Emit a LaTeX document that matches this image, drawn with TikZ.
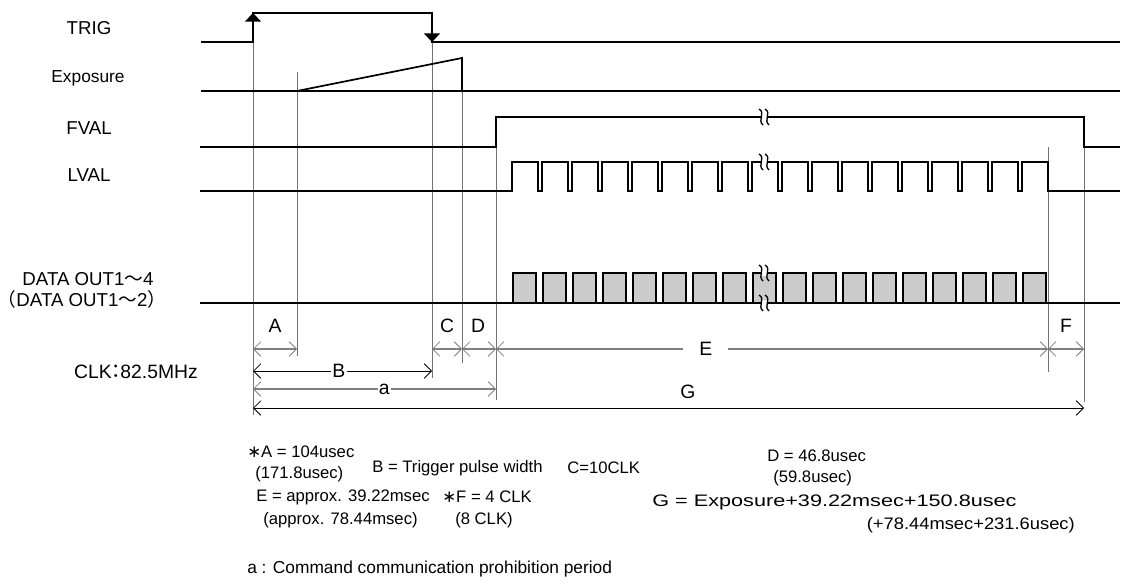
\documentclass[tikz,border=0pt]{standalone}
\usepackage{fontspec}
\setmainfont{Liberation Sans}
\newfontfamily\jpf{Noto Sans CJK JP}
\newfontfamily\djv{DejaVu Sans}
\usetikzlibrary{arrows.meta}
\tikzset{
  sig/.style={line width=1.3pt, line join=miter},
  refl/.style={draw=black!55, line width=0.6pt},
  barb/.tip={Straight Barb[length=5.5pt,width=11pt,line width=0.6pt]},
  dimgray/.style={draw=black!50, line width=1.2pt, {barb}-{barb}},
  dimblack/.style={draw=black, line width=0.7pt, {barb}-{barb}},
  lbl/.style={font=\fontsize{14}{16}\selectfont, inner sep=0pt},
  dlbl/.style={font=\fontsize{14.5}{16}\selectfont, inner sep=1pt},
  gap/.style={fill=white, inner xsep=8pt, inner ysep=1pt},
  note/.style={font=\fontsize{12.5}{15}\selectfont, inner sep=0pt, anchor=west},
  box/.style={draw=black, line width=1pt, fill=black!20},
  brk/.pic={
    \fill[white] (-3.5,-3) rectangle (3.5,3);
    \draw[line width=1pt] (-5,-8) .. controls (2,-4) and (-7,3) .. (-1,8);
    \draw[line width=1pt] (1,-8) .. controls (8,-4) and (-1,3) .. (5,8);
  }
}
\begin{document}
\begin{tikzpicture}[x=0.75pt,y=-0.75pt]
\useasboundingbox (0,0) rectangle (1127,585);

% ---------- labels on the left ----------
\node[lbl] (trig) at (89,28) {TRIG};
\node[lbl, font=\fontsize{13}{15}\selectfont] (expo) at (88,78) {Exposure};
\node[lbl] (fval) at (89,128) {FVAL};
\node[lbl] (lval) at (89,175) {LVAL};
\node[lbl] (d1) at (88,279) {DATA OUT1{\jpf ～}4};
\node[lbl] (d2) at (82,299) {{\jpf （}DATA OUT1{\jpf ～}2{\jpf ）}};
\node[lbl, font=\fontsize{14.5}{16}\selectfont] (clk) at (136,372) {CLK{\jpf\hspace{-0.25em}：\hspace{-0.3em}}82.5MHz};

% ---------- reference lines ----------
\draw[refl] (253,42) -- (253,415);
\draw[refl] (297,72) -- (297,356);
\draw[refl] (432,42) -- (432,378);
\draw[refl] (462,91) -- (462,363);
\draw[refl] (496,147) -- (496,400);
\draw[refl] (1048,147) -- (1048,372);
\draw[refl] (1084,147) -- (1084,402);

% ---------- TRIG ----------
\draw[sig] (201,42) -- (253,42) -- (253,13) -- (432,13) -- (432,42) -- (1120,42);
\draw[sig, -{Triangle[length=6.5pt,width=12pt]}] (253,30) -- (253,13);
\draw[sig, -{Triangle[length=6.5pt,width=12pt]}] (432,25) -- (432,42);

% ---------- Exposure ----------
\draw[sig] (201,91) -- (1120,91);
\draw[sig] (297,91) -- (462,58) -- (462,91);

% ---------- FVAL ----------
\draw[sig] (200,147) -- (496,147) -- (496,117) -- (1084,117) -- (1084,147) -- (1120,147);

% ---------- LVAL ----------
\draw[sig] (200,191)
  \foreach \k in {0,...,17} { -- ({512+30*\k},191) -- ({512+30*\k},162) -- ({538+30*\k},162) -- ({538+30*\k},191) }
  -- (1120,191);

% ---------- DATA ----------
\draw[sig] (200,303) -- (1120,303);
\foreach \k in {0,...,17} {
  \draw[box] ({513+30*\k},303) rectangle ({536+30*\k},273);
}

% ---------- break marks ----------
\pic at (764,117) {brk};
\pic at (764,162) {brk};
\pic at (764,273) {brk};
\pic at (764,303) {brk};

% ---------- dimension coordinates ----------
\coordinate (t0) at (253,349);
\coordinate (t1) at (297,349);
\coordinate (t2) at (432,349);
\coordinate (t3) at (462,349);
\coordinate (t4) at (496,349);
\coordinate (t5) at (1048,349);
\coordinate (t6) at (1084,349);
\coordinate (b0) at (253,371);
\coordinate (b1) at (432,371);
\coordinate (a0) at (253,389);
\coordinate (a1) at (496,389);
\coordinate (g0) at (253,408);
\coordinate (g1) at (1084,408);

\draw[dimgray] (t0) -- (t1);
\draw[dimgray] (t2) -- (t3);
\draw[dimgray] (t3) -- (t4);
\draw[dimgray] (t4) -- node[gap, dlbl, pos=0.38, inner xsep=12pt] (lE) {E} (t5);
\draw[dimgray] (t5) -- (t6);
\draw[dimblack] (b0) -- node[gap, dlbl, pos=0.48] (lB) {B} (b1);
\draw[dimgray] (a0) -- node[gap, dlbl, pos=0.54] (la) {a} (a1);
\draw[dimblack] (g0) -- (g1);

\node[dlbl] (lA) at (275,326) {A};
\node[dlbl] (lC) at (447,326) {C};
\node[dlbl] (lD) at (478,326) {D};
\node[dlbl] (lF) at (1066,326) {F};
\node[dlbl] (lG) at (688,392) {G};

% ---------- notes ----------
\node[note] (nA1) at (247,452) {{\djv ∗}A = 104usec};
\node[note] (nA2) at (255,474) {(171.8usec)};
\node[note] (nB) at (372,468) {B = Trigger pulse width};
\node[note] (nC) at (567,468) {C=10CLK};
\node[note] (nD1) at (767,456) {D = 46.8usec};
\node[note] (nD2) at (773,478) {(59.8usec)};
\node[note] (nE1) at (256,497) {E = approx. 39.22msec};
\node[note] (nE2) at (263,520) {(approx. 78.44msec)};
\node[note] (nF1) at (442,497) {{\djv ∗}F = 4 CLK};
\node[note] (nF2) at (455,520) {(8 CLK)};
\node[note] (nG1) at (652,502) {\scalebox{1.3}[1]{G = Exposure+39.22msec+150.8usec}};
\node[note, anchor=east] (nG2) at (1075,525) {\scalebox{1.1}[1]{(+78.44msec+231.6usec)}};
\node[note, font=\fontsize{13}{15}\selectfont] (na) at (247,569) {a : Command communication prohibition period};
\end{tikzpicture}
\end{document}
